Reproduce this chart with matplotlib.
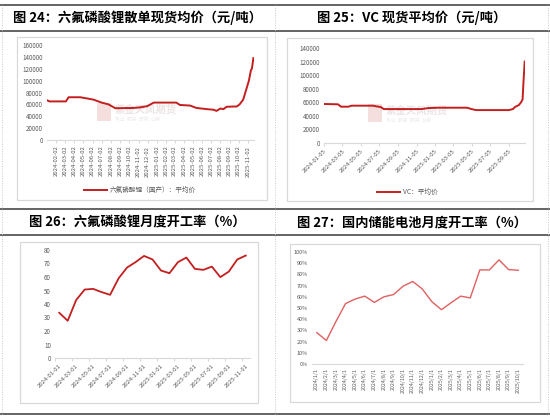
import pandas as pd
import numpy as np
import matplotlib.pyplot as plt
from matplotlib.lines import Line2D
from matplotlib.patches import Rectangle

plt.rcParams['font.family'] = ['Noto Sans CJK SC', 'DejaVu Sans']

W, H = 550, 416

# --- data ---
# 图24 六氟磷酸锂散单现货均价（元/吨）
lipf6_dates = ['2024-01-02', '2024-01-10', '2024-03-05', '2024-03-14', '2024-04-22',
               '2024-06-05', '2024-07-02', '2024-07-25', '2024-08-17', '2024-10-17',
               '2024-11-08', '2024-12-01', '2024-12-23', '2025-03-08', '2025-03-20',
               '2025-04-23', '2025-05-14', '2025-06-17', '2025-07-10', '2025-07-20',
               '2025-08-02', '2025-08-12', '2025-08-23', '2025-09-26', '2025-10-05',
               '2025-10-17', '2025-10-23', '2025-11-05', '2025-11-12', '2025-11-15',
               '2025-11-20']
lipf6_price = [67000, 65000, 65000, 72000, 72000,
               68000, 63000, 60000, 53500, 54000,
               55000, 57000, 63000, 63000, 59000,
               58000, 54000, 52000, 51000, 49000,
               53000, 52000, 56000, 56500, 60000,
               68000, 78000, 100000, 118000, 120000,
               138000]
lipf6_ticks = pd.date_range('2024-01-02', '2025-11-02', freq='MS') + pd.Timedelta(days=1)

# 图25 VC现货平均价（元/吨）
vc_dates = ['2024-01-05', '2024-02-20', '2024-03-01', '2024-03-25', '2024-04-05',
            '2024-06-15', '2024-06-25', '2024-07-10', '2024-07-20', '2024-11-20',
            '2024-12-15', '2025-01-15', '2025-04-20', '2025-05-05', '2025-05-20',
            '2025-09-05', '2025-09-18', '2025-09-25', '2025-10-08', '2025-10-15',
            '2025-10-20', '2025-10-23', '2025-10-27']
vc_price = [57500, 57000, 53500, 53500, 55000,
            55000, 54000, 53000, 50000, 50000,
            51500, 52000, 52000, 50000, 48500,
            48500, 50000, 53000, 56000, 60000,
            64000, 90000, 120000]
vc_ticks = pd.date_range('2024-01-01', '2025-09-01', freq='2MS') + pd.Timedelta(days=4)

# 图26 六氟磷酸锂月度开工率（%）
rate26_months = [f'{y}-{m:02d}-01' for y in (2024, 2025) for m in range(1, 13)][:23]
rate26 = [33.5, 27.6, 43, 50.7, 51.2, 48.8, 46.8, 59, 67, 71, 75.6, 73,
          64.8, 62.8, 71, 74.4, 66, 65.3, 67.7, 59.9, 64, 73, 75.9]

# 图27 国内储能电池月度开工率（%）
rate27_months = [f'{y}/{m}/1' for y in (2024, 2025) for m in range(1, 13)][:22]
rate27 = [0.28, 0.21, 0.38, 0.54, 0.58, 0.606, 0.55, 0.60, 0.62, 0.695, 0.737,
          0.67, 0.556, 0.485, 0.547, 0.606, 0.59, 0.84, 0.84, 0.93, 0.843, 0.837]

titles = ['图 24：六氟磷酸锂散单现货均价（元/吨）', '图 25：VC 现货平均价（元/吨）',
          '图 26：六氟磷酸锂月度开工率（%）', '图 27：国内储能电池月度开工率（%）']

red = '#C41E1E'
tick_col = '#595959'
grey = '#d9d9d9'

fig = plt.figure(figsize=(W / 100, H / 100), dpi=100)
fig.patch.set_facecolor('white')


def fy(y):
    return 1 - y / H


def add_ax(x0, y0, x1, y1):
    return fig.add_axes([x0 / W, 1 - y1 / H, (x1 - x0) / W, (y1 - y0) / H])


def box(x0, y0, x1, y1):
    fig.add_artist(Rectangle((x0 / W, 1 - y1 / H), (x1 - x0) / W, (y1 - y0) / H,
                             transform=fig.transFigure, fill=False, ec=grey, lw=0.9))


def style(ax):
    for s in ['top', 'right', 'left']:
        ax.spines[s].set_visible(False)
    ax.spines['bottom'].set_color(grey)
    ax.spines['bottom'].set_linewidth(0.8)
    ax.tick_params(axis='y', length=0, labelsize=4.5, labelcolor=tick_col, pad=3)
    ax.tick_params(axis='x', length=2.5, color=grey, labelsize=4.3, labelcolor=tick_col, pad=1.5)
    ax.patch.set_alpha(0)


def watermark(x, y):
    # faint logo + company name behind the line
    fig.add_artist(Rectangle((x / W, fy(y + 9)), 14 / W, 18 / H, transform=fig.transFigure,
                             fc='#f4dede', ec='none', zorder=-1))
    fig.text((x + 18) / W, fy(y - 2), '紫金天风期货', fontsize=7.5, color='#ece4e4',
             ha='left', va='center', weight='bold', zorder=-1)
    fig.text((x + 18) / W, fy(y + 7), '专业  服务  研究  创新', fontsize=3.5, color='#eeeaea',
             ha='left', va='center', zorder=-1)


# frame lines
for y in [5, 31, 209, 235, 414]:
    fig.add_artist(Line2D([0, 1], [fy(y), fy(y)], transform=fig.transFigure,
                          color='#3a3a3a', lw=1.1))
for x in [2, 275, 548]:
    fig.add_artist(Line2D([x / W, x / W], [fy(5), fy(414)], transform=fig.transFigure,
                          color='#c8c8c8', lw=0.7, ls=(0, (1, 1.5))))

# titles
fig.text(137 / W, fy(18), titles[0], ha='center', va='center', fontsize=9.5, weight='bold')
fig.text(412 / W, fy(18), titles[1], ha='center', va='center', fontsize=9.5, weight='bold')
fig.text(137 / W, fy(222), titles[2], ha='center', va='center', fontsize=9.5, weight='bold')
fig.text(412 / W, fy(222), titles[3], ha='center', va='center', fontsize=9.5, weight='bold')

# chart boxes
box(17, 37, 267, 200)
box(287, 38, 533, 201)
box(20, 242, 258, 403)
box(290, 244, 540, 402)

# --- 图24 ---
watermark(97, 112)
ax = add_ax(47, 45, 254, 140)
style(ax)
ax.plot(pd.to_datetime(lipf6_dates), lipf6_price, color=red, lw=1.4,
        label='六氟磷酸锂（国产）：平均价')
ax.set_ylim(0, 160000)
ax.set_yticks(np.arange(0, 160001, 20000))
ax.set_xlim(pd.Timestamp('2024-01-02'), pd.Timestamp('2025-11-22'))
ax.set_xticks(lipf6_ticks)
ax.set_xticklabels([d.strftime('%Y-%m-%d') for d in lipf6_ticks], rotation=90)
ax.legend(loc='center', bbox_to_anchor=(140 / W, fy(190)), bbox_transform=fig.transFigure,
          frameon=False, fontsize=4.8, handlelength=3.5, handletextpad=0.4,
          labelcolor=tick_col)

# --- 图25 ---
watermark(368, 113)
ax = add_ax(324, 48, 525, 143)
style(ax)
ax.plot(pd.to_datetime(vc_dates), vc_price, color=red, lw=1.4, label='VC：平均价')
ax.set_ylim(0, 140000)
ax.set_yticks(np.arange(0, 140001, 20000))
ax.set_xlim(pd.Timestamp('2024-01-05'), pd.Timestamp('2025-10-28'))
ax.set_xticks(vc_ticks)
ax.set_xticklabels([d.strftime('%Y-%m-%d') for d in vc_ticks], rotation=45,
                   ha='right', rotation_mode='anchor')
ax.legend(loc='center', bbox_to_anchor=(407 / W, fy(192)), bbox_transform=fig.transFigure,
          frameon=False, fontsize=4.8, handlelength=3.5, handletextpad=0.4,
          labelcolor=tick_col)

# --- 图26 ---
ax = add_ax(55, 250, 250, 358)
style(ax)
x26 = np.arange(len(rate26))
ax.plot(x26, rate26, color=red, lw=1.3)
ax.set_ylim(0, 80)
ax.set_yticks(np.arange(0, 81, 10))
ax.set_xlim(-0.5, len(rate26) - 0.5)
ax.set_xticks(x26[::2] - 0.5, minor=False)
ax.set_xticklabels([])
ax.set_xticks(x26[::2], minor=True)
ax.set_xticklabels(rate26_months[::2], minor=True, rotation=45, ha='right',
                   rotation_mode='anchor')
ax.tick_params(axis='x', which='minor', length=0, labelsize=4.3, labelcolor=tick_col, pad=4)

# --- 图27 ---
ax = add_ax(312, 252, 523, 364)
style(ax)
x27 = np.arange(len(rate27))
ax.plot(x27, rate27, color='#E06060', lw=1.0)
ax.set_ylim(0, 1)
ax.set_yticks(np.arange(0, 1.01, 0.1))
ax.set_yticklabels([f'{int(round(v * 100))}%' for v in np.arange(0, 1.01, 0.1)])
ax.tick_params(axis='y', labelsize=4.0)
ax.set_xlim(-0.5, len(rate27) - 0.5)
ax.set_xticks(x27)
ax.set_xticklabels(rate27_months, rotation=90, fontsize=3.8)
ax.tick_params(axis='x', length=0, pad=3)

fig.savefig('out.png', dpi=100, facecolor='white')
